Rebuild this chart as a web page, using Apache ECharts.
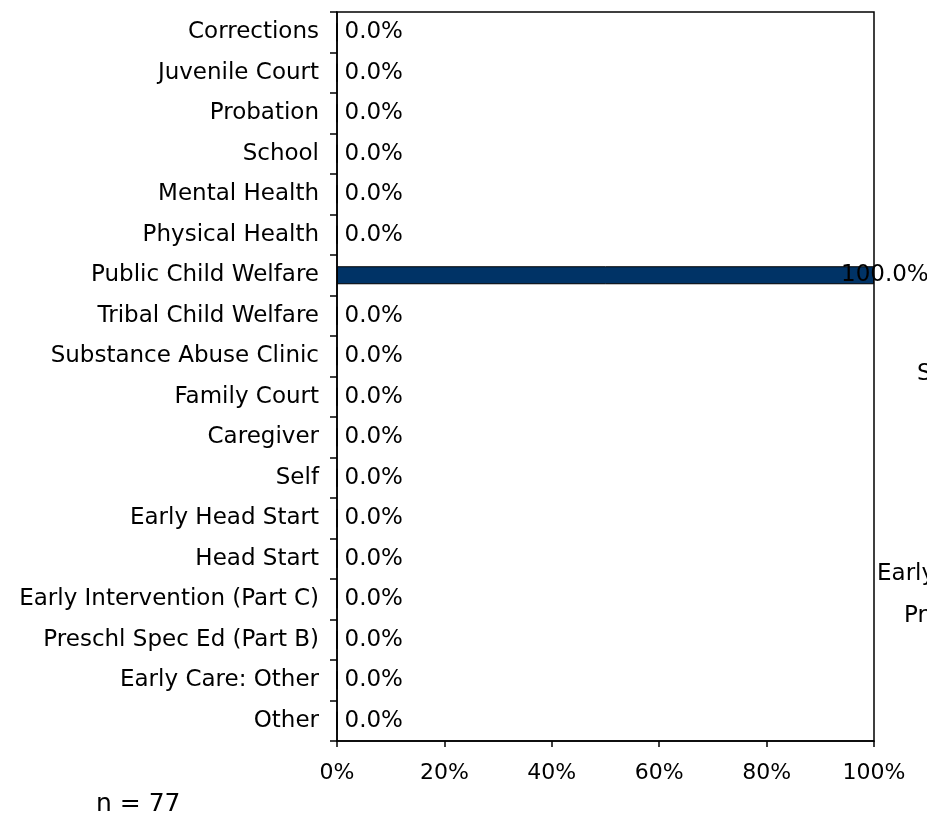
<!DOCTYPE html>
<html>
<head>
<meta charset="utf-8">
<script src="https://cdn.jsdelivr.net/npm/echarts@6/dist/echarts.min.js"></script>
<style>
  html, body { margin: 0; padding: 0; background: #fff; }
  #chart { width: 927px; height: 820px; }
</style>
</head>
<body>
<div id="chart"></div>
<script>
  // categories, top to bottom
  var categories = ['Corrections', 'Juvenile Court', 'Probation', 'School', 'Mental Health',
    'Physical Health', 'Public Child Welfare', 'Tribal Child Welfare', 'Substance Abuse Clinic',
    'Family Court', 'Caregiver', 'Self', 'Early Head Start', 'Head Start',
    'Early Intervention (Part C)', 'Preschl Spec Ed (Part B)', 'Early Care: Other', 'Other'];
  var percents = [0, 0, 0, 0, 0, 0, 100, 0, 0, 0, 0, 0, 0, 0, 0, 0, 0, 0];
  var xTicks = [0, 20, 40, 60, 80, 100];
  var sampleNote = 'n = 77';

  var font = 'Verdana, "DejaVu Sans", sans-serif';
  var fs = 23;
  var myChart = echarts.init(document.getElementById('chart'));

  // echarts category axis goes bottom-up, so flip the lists
  var cats = categories.slice().reverse();
  var vals = percents.slice().reverse().map(function (v) {
    var item = { value: v };
    if (v >= 100) {
      // Excel put this one back over the bar end
      item.label = { offset: [-40, 0] };
    }
    return item;
  });

  var option = {
    backgroundColor: '#fff',
    animation: false,
    grid: {
      left: 337, right: 53, top: 12, bottom: 79,
      show: true, borderColor: '#000', borderWidth: 1.5, backgroundColor: 'transparent'
    },
    xAxis: {
      type: 'value',
      min: xTicks[0],
      max: xTicks[xTicks.length - 1],
      interval: 20,
      axisLine: { show: true, lineStyle: { color: '#000', width: 1.5 } },
      axisTick: { show: true, length: 6, lineStyle: { color: '#000', width: 1.5 } },
      splitLine: { show: false },
      axisLabel: {
        color: '#000', fontFamily: font, fontSize: 22, margin: 21,
        formatter: function (v) { return v + '%'; }
      }
    },
    yAxis: {
      type: 'category',
      data: cats,
      axisLine: { show: true, lineStyle: { color: '#000', width: 1.5 } },
      axisTick: { show: true, length: 7, lineStyle: { color: '#000', width: 1.5 } },
      splitLine: { show: false },
      axisLabel: { color: '#000', fontFamily: font, fontSize: fs, margin: 18 }
    },
    series: [{
      type: 'bar',
      data: vals,
      barWidth: 18,
      itemStyle: { color: '#003366', borderColor: '#000', borderWidth: 1 },
      label: {
        show: true,
        position: 'right',
        distance: 7,
        color: '#000',
        fontFamily: font,
        fontSize: fs,
        formatter: function (p) { return p.value.toFixed(1) + '%'; }
      }
    }],
    graphic: [
      { type: 'text', left: 96, top: 792,
        style: { text: sampleNote, fill: '#000', font: '25px ' + font } },
      // clipped text bleeding in from a neighbouring chart
      { type: 'text', left: 917, top: 363,
        style: { text: 'S', fill: '#000', font: fs + 'px ' + font } },
      { type: 'text', left: 877, top: 563,
        style: { text: 'Early', fill: '#000', font: fs + 'px ' + font } },
      { type: 'text', left: 904, top: 605,
        style: { text: 'Pr', fill: '#000', font: fs + 'px ' + font } }
    ]
  };
  myChart.setOption(option);
</script>
</body>
</html>
